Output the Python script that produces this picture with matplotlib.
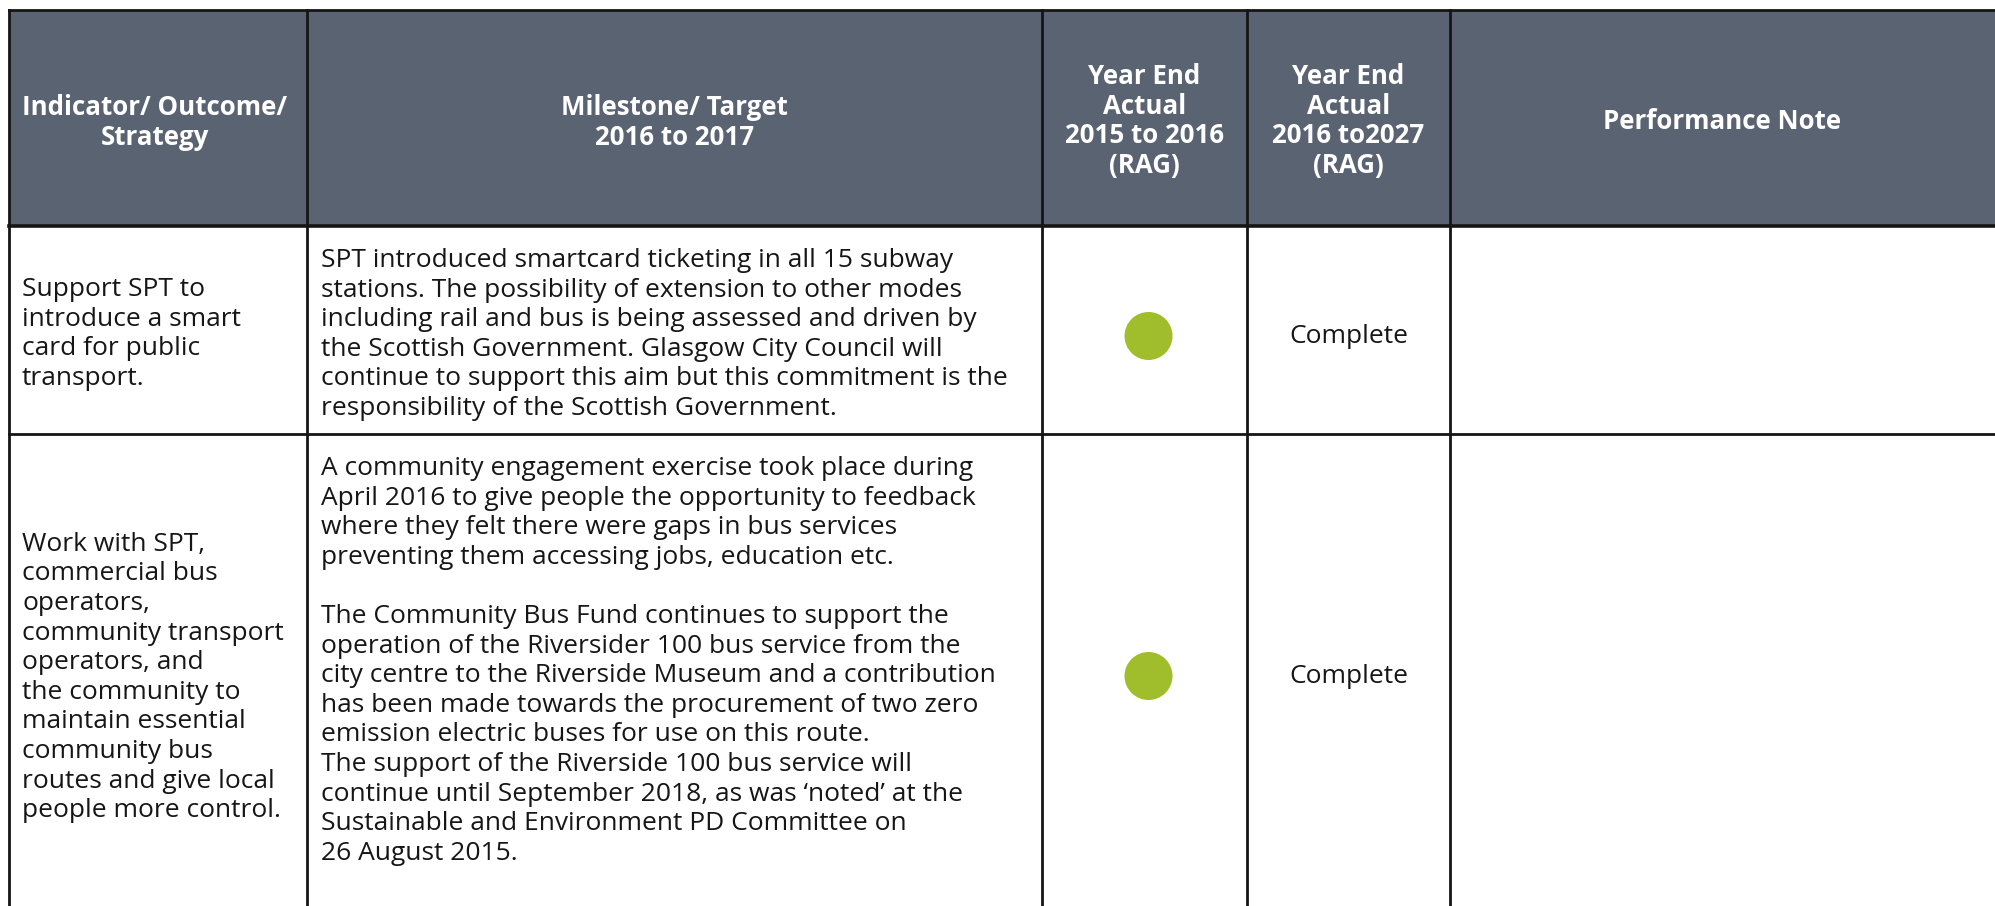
import matplotlib
matplotlib.use("Agg")
import matplotlib.pyplot as plt
from matplotlib.patches import Rectangle, Circle

# table content
headers = ["Indicator/ Outcome/\nStrategy",
           "Milestone/ Target\n2016 to 2017",
           "Year End\nActual\n2015 to 2016\n(RAG)",
           "Year End\nActual\n2016 to2027\n(RAG)",
           "Performance Note"]

indicators = ["Support SPT to\nintroduce a smart\ncard for public\ntransport.",
              "Work with SPT,\ncommercial bus\noperators,\ncommunity transport\noperators, and\n"
              "the community to\nmaintain essential\ncommunity bus\nroutes and give local\npeople more control."]

milestones = ["SPT introduced smartcard ticketing in all 15 subway\n"
              "stations. The possibility of extension to other modes\n"
              "including rail and bus is being assessed and driven by\n"
              "the Scottish Government. Glasgow City Council will\n"
              "continue to support this aim but this commitment is the\n"
              "responsibility of the Scottish Government.",
              "A community engagement exercise took place during\n"
              "April 2016 to give people the opportunity to feedback\n"
              "where they felt there were gaps in bus services\n"
              "preventing them accessing jobs, education etc.\n"
              "\n"
              "The Community Bus Fund continues to support the\n"
              "operation of the Riversider 100 bus service from the\n"
              "city centre to the Riverside Museum and a contribution\n"
              "has been made towards the procurement of two zero\n"
              "emission electric buses for use on this route.\n"
              "The support of the Riverside 100 bus service will\n"
              "continue until September 2018, as was \u2018noted\u2019 at the\n"
              "Sustainable and Environment PD Committee on\n"
              "26 August 2015."]

rag_2015 = ["green", "green"]
rag_2016 = ["Complete", "Complete"]
notes = ["", ""]

# layout (pixels)
W, H = 1995, 906
col_x = [9, 307, 1042, 1247, 1450, 2100]
row_y = [10, 226, 434, 960]
header_bg = "#5a6371"
line_c = "#151515"
text_c = "#161616"
rag_colors = {"green": "#a0be2c"}
step = 29.6  # line pitch in px

plt.rcParams["font.family"] = ["Open Sans", "DejaVu Sans"]


def lines_at(ax, x, y0, txt, **kw):
    # draw a text block line by line, y0 = first baseline
    for i, s in enumerate(txt.split("\n")):
        if s:
            ax.text(x, y0 + i * step, s, va="baseline", **kw)


fig = plt.figure(figsize=(W / 100, H / 100), dpi=100)
ax = fig.add_axes([0, 0, 1, 1])
ax.set_xlim(0, W)
ax.set_ylim(H, 0)
ax.axis("off")

ax.add_patch(Rectangle((col_x[0], row_y[0]), col_x[-1] - col_x[0], row_y[1] - row_y[0],
                       facecolor=header_bg, edgecolor="none"))

lw = 2.0
for x in col_x[:-1]:
    ax.plot([x, x], [row_y[0], row_y[-1]], color=line_c, lw=lw, solid_capstyle="projecting")
for y in row_y[:-1]:
    ax.plot([col_x[0], col_x[-1]], [y, y], color=line_c, lw=lw if y != row_y[1] else 2.6,
            solid_capstyle="projecting")

# header
hfs = 18.6
hdr_base = [115, 115, 84, 84, 129]
hdr_cx = [(col_x[i] + col_x[i + 1]) / 2 for i in range(4)] + [(col_x[4] + W) / 2]
hdr_cx[0] -= 3
for i, h in enumerate(headers):
    lines_at(ax, hdr_cx[i], hdr_base[i], h, ha="center", color="white",
             fontsize=hfs, fontweight="bold")

# body
fs = 19
left_base = [296, 550.7]
mid_base = [267, 475]
circ_y = [336, 676]
for r in range(len(indicators)):
    lines_at(ax, col_x[0] + 13, left_base[r], indicators[r], ha="left",
             fontsize=fs, color=text_c)
    lines_at(ax, col_x[1] + 14, mid_base[r], milestones[r], ha="left",
             fontsize=fs, color=text_c)
    ax.add_patch(Circle(((col_x[2] + col_x[3]) / 2 + 4, circ_y[r]), 24,
                        facecolor=rag_colors[rag_2015[r]], edgecolor="none"))
    ax.text((col_x[3] + col_x[4]) / 2, circ_y[r] + 7, rag_2016[r], ha="center", va="baseline",
            fontsize=fs, color=text_c)
    if notes[r]:
        ax.text(col_x[4] + 20, circ_y[r], notes[r], ha="left", va="center", fontsize=fs)

fig.savefig("out.png", dpi=100)
plt.close()
